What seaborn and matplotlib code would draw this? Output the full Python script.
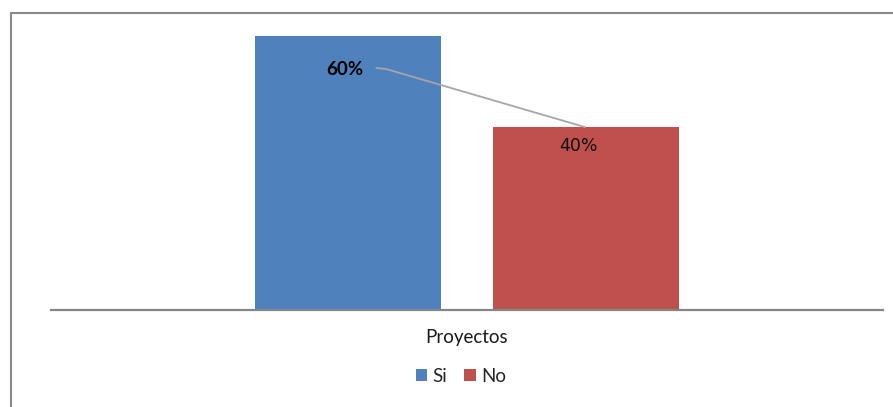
import matplotlib
matplotlib.use("Agg")
import matplotlib.pyplot as plt
from matplotlib.lines import Line2D
import seaborn as sns
import pandas as pd

# Chart data
categorias = ["Proyectos"]
respuestas = ["Si", "No"]
valores = [60, 40]
etiquetas = ["60%", "40%"]
colores = ["#4F81BD", "#C0504D"]

df = pd.DataFrame({
    "grupo": categorias * len(respuestas),
    "respuesta": respuestas,
    "valor": valores,
})

sns.set_theme(style="white")
plt.rcParams["font.family"] = ["Lato", "DejaVu Sans"]

W, H = 893, 407
fig = plt.figure(figsize=(W / 100, H / 100), dpi=100)
ax = fig.add_axes([51 / W, 1 - 310 / H, 832 / W, 274 / H])

sns.barplot(data=df, x="grupo", y="valor", hue="respuesta",
            palette=colores, width=0.571, gap=0.217, ax=ax,
            saturation=1, legend=True, linewidth=0)

ax.set_xlim(-0.5, 0.5)
ax.set_ylim(0, 60)
ax.set_xlabel("")
ax.set_ylabel("")
ax.set_yticks([])
for side in ["top", "left", "right"]:
    ax.spines[side].set_visible(False)
ax.spines["bottom"].set_color("#868686")
ax.spines["bottom"].set_linewidth(1.6)
ax.tick_params(axis="x", length=0, pad=14, labelsize=13.5, labelcolor="#1a1a1a")

# Data labels
bars = ax.patches[:2]
b_si, b_no = bars
cx_si = b_si.get_x() + b_si.get_width() / 2
cx_no = b_no.get_x() + b_no.get_width() / 2

ax.text(cx_si - 0.004, 52.6, etiquetas[0], ha="center", va="center",
        fontsize=13.5, fontweight="bold", color="black")
ax.text(cx_no - 0.009, 36.0, etiquetas[1], ha="center", va="center",
        fontsize=12.5, color="#111111", fontfamily="DejaVu Sans")

# Leader line from the 60% label
x0 = cx_si + 0.033
x1 = cx_si + 0.045
ax.plot([x0, x1, cx_no], [53.0, 52.8, valores[1]], color="#A6A6A6", lw=1.3,
        solid_capstyle="butt")

# Legend below the category label
handles, labels = ax.get_legend_handles_labels()
ax.legend(handles, labels, loc="center", bbox_to_anchor=(461 / W, 1 - 376 / H),
          bbox_transform=fig.transFigure, ncol=2, frameon=False,
          handlelength=0.6, handleheight=0.6, handletextpad=0.3,
          columnspacing=0.9, fontsize=13.5, borderaxespad=0)

# Chart area border (left and top edges)
fig.add_artist(Line2D([11 / W, 11 / W], [0, 1 - 13 / H], transform=fig.transFigure,
                      color="#898989", lw=1.5))
fig.add_artist(Line2D([11 / W, 1], [1 - 13 / H, 1 - 13 / H], transform=fig.transFigure,
                      color="#898989", lw=1.5))

fig.savefig("out.png", dpi=100)
